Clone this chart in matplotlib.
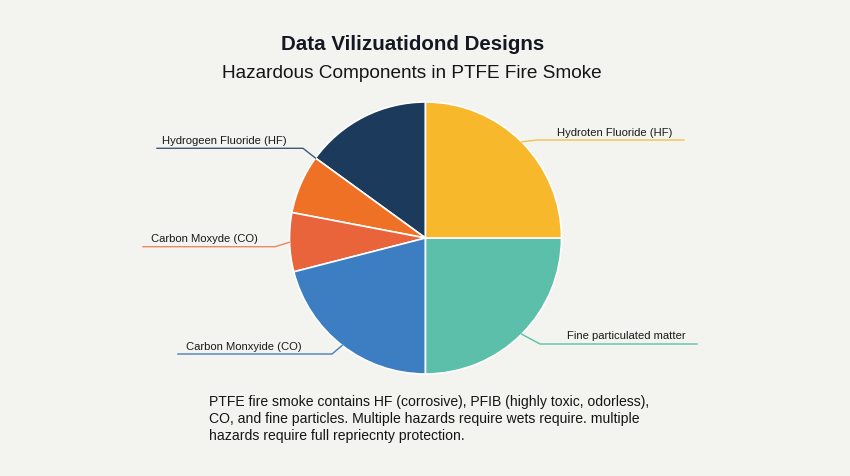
import matplotlib
matplotlib.use("Agg")
import matplotlib.pyplot as plt
import numpy as np

# ---- data ----
labels = ["Hydrogeen Fluoride (HF)", "", "Carbon Moxyde (CO)",
          "Carbon Monxyide (CO)", "Fine particulated matter", "Hydroten Fluoride (HF)"]
values = [15, 7, 7, 21, 25, 25]
colors = ["#1C3A5B", "#EF7125", "#E9633B", "#3D7EC3", "#5BBFA9", "#F7B92B"]
line_colors = ["#3E5A78", None, "#E98A66", "#4A7FB8", "#5BBFA9", "#F2C14E"]

title = "Data Vilizuatidond Designs"
subtitle = "Hazardous Components in PTFE Fire Smoke"
note = ("PTFE fire smoke contains HF (corrosive), PFIB (highly toxic, odorless),\n"
        "CO, and fine particles. Multiple hazards require wets require. multiple\n"
        "hazards require full repriecnty protection.")

W, H = 850, 477
BG = "#F3F3EF"
FONT = ["Liberation Sans", "DejaVu Sans"]

fig = plt.figure(figsize=(W / 100, H / 100), dpi=100, facecolor=BG)

# pie axes
cx, cy, R = 425.5, 239.0, 136.0
ax = fig.add_axes([(cx - R) / W, (H - cy - R) / H, 2 * R / W, 2 * R / H])
ax.set_facecolor(BG)
ax.axis("off")
wedges, _ = ax.pie(values, colors=colors, startangle=90, counterclock=True,
                   radius=1.0, wedgeprops=dict(edgecolor="white", linewidth=1.2))
ax.set_xlim(-1, 1)
ax.set_ylim(-1, 1)
ax.set_aspect("equal")

def px_to_fig(x, y):
    return x / W, (H - y) / H

# leader layout: (anchor mode, elbow px, end x px, text x px)
layout = [
    ("end", (303, 149.3), 157, 162),
    None,
    ("mid", (275, 247.7), 143, 151),
    ("mid", (332, 355), 178, 186),
    ("mid", (540, 345), 697, 567),
    ("mid", (537, 141), 684, 557),
]

for w, lab, lc, lay in zip(wedges, labels, line_colors, layout):
    if lay is None or not lab:
        continue
    mode, (ex, ey), endx, tx = lay
    ang = w.theta2 if mode == "end" else 0.5 * (w.theta1 + w.theta2)
    a = np.deg2rad(ang)
    axp = cx + R * np.cos(a)
    ayp = cy - R * np.sin(a)
    xs = [axp, ex, endx]
    ys = [ayp, ey, ey]
    fx, fy = zip(*[px_to_fig(x, y) for x, y in zip(xs, ys)])
    fig.add_artist(plt.Line2D(fx, fy, color=lc, lw=1.0, transform=fig.transFigure))
    tfx, tfy = px_to_fig(tx, ey - 8.5)
    fig.text(tfx, tfy, lab, ha="left", va="center", fontsize=8.1,
             color="#1A1A1A", family=FONT)

# titles
fig.text(*px_to_fig(412.5, 45), title, ha="center", va="center", fontsize=14.8,
         fontweight="bold", color="#151822", family=FONT)
fig.text(*px_to_fig(412, 74), subtitle, ha="center", va="center", fontsize=13.7,
         color="#151515", family=FONT)

# note
fig.text(*px_to_fig(209, 395), note, ha="left", va="top", fontsize=10.05,
         color="#151515", family=FONT, linespacing=1.27)

fig.savefig("out.png", dpi=100, facecolor=BG)
